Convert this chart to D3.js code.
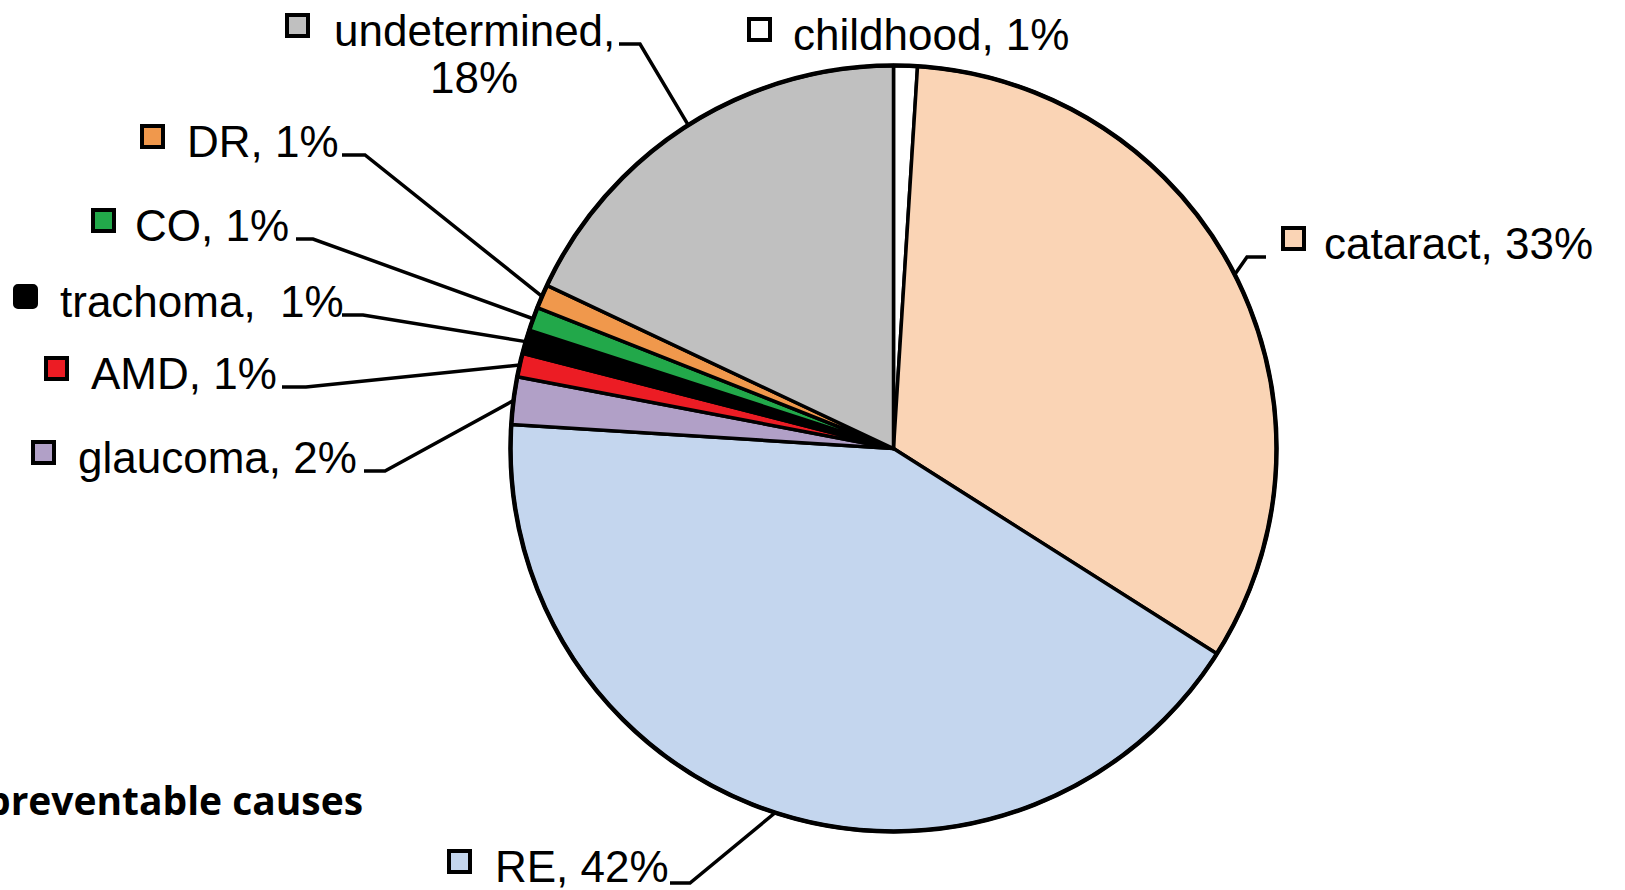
<!DOCTYPE html>
<html>
<head>
<meta charset="utf-8">
<script src="https://cdn.jsdelivr.net/npm/d3@7"></script>
<style>
  html, body { margin: 0; padding: 0; background: #fff; }
  svg { display: block; }
</style>
</head>
<body>
<script>
// data, clockwise from 12 o'clock
var causes = ['childhood', 'cataract', 'RE', 'glaucoma', 'AMD', 'trachoma', 'CO', 'DR', 'undetermined'];
var shares = [1, 33, 42, 2, 1, 1, 1, 1, 18];
var labels = ['childhood, 1%', 'cataract, 33%', 'RE, 42%', 'glaucoma, 2%', 'AMD, 1%',
              'trachoma,  1%', 'CO, 1%', 'DR, 1%', 'undetermined,'];
var colours = ['#ffffff', '#fad4b5', '#c4d6ee', '#b1a0c7', '#ec1c24',
               '#000000', '#22a84a', '#f0984c', '#c0c0c0'];
var caption = 'preventable causes';

var W = 1625, H = 890;
var cx = 893.5, cy = 448.5, R = 383;

// label layout: square x, baseline y, text x, leader start x, elbow x
var layout = {
  childhood:    {sq: 749, base: 50,  tx: 793, lead: null},
  cataract:     {sq: 1283, base: 259, tx: 1324, lead: [1266, 1247]},
  RE:           {sq: 449, base: 882, tx: 495, lead: [670, 690]},
  glaucoma:     {sq: 33,  base: 473, tx: 78,  lead: [364, 385]},
  AMD:          {sq: 46,  base: 389, tx: 91,  lead: [282, 306]},
  trachoma:     {sq: 15,  base: 317, tx: 60,  lead: [342, 363]},
  CO:           {sq: 93,  base: 241, tx: 135, lead: [296, 313]},
  DR:           {sq: 142, base: 157, tx: 187, lead: [342, 365]},
  undetermined: {sq: 287, base: 46,  tx: 334, lead: [619, 640]}
};

var svg = d3.select('body').append('svg')
  .attr('width', W)
  .attr('height', H);

var pie = d3.pie().sort(null).value(function(d) { return d; });
var arcs = pie(shares);

var arc = d3.arc().innerRadius(0).outerRadius(R);
var edge = d3.arc().innerRadius(R).outerRadius(R);

var g = svg.append('g').attr('transform', 'translate(' + cx + ',' + cy + ')');

g.selectAll('path')
  .data(arcs)
  .enter()
  .append('path')
  .attr('d', arc)
  .attr('fill', function(d, i) { return colours[i]; })
  .attr('stroke', '#000')
  .attr('stroke-width', 3.5)
  .attr('stroke-linejoin', 'round');

// heavier rim
g.append('circle')
  .attr('r', R)
  .attr('fill', 'none')
  .attr('stroke', '#000')
  .attr('stroke-width', 4.5);

// labels
var lab = svg.selectAll('g.lab')
  .data(arcs)
  .enter()
  .append('g')
  .attr('class', 'lab');

lab.append('rect')
  .attr('x', function(d, i) { return layout[causes[i]].sq; })
  .attr('y', function(d, i) { return layout[causes[i]].base - 31; })
  .attr('width', 21)
  .attr('height', 21)
  .attr('rx', function(d, i) { return causes[i] === 'trachoma' ? 3 : 0; })
  .attr('fill', function(d, i) { return colours[i]; })
  .attr('stroke', '#000')
  .attr('stroke-width', 4);

lab.append('text')
  .attr('x', function(d, i) { return layout[causes[i]].tx; })
  .attr('y', function(d, i) { return layout[causes[i]].base; })
  .attr('font-family', '"Liberation Sans", Arial, sans-serif')
  .attr('font-size', 44)
  .attr('fill', '#000')
  .style('white-space', 'pre')
  .text(function(d, i) { return labels[i]; });

// second line for undetermined
svg.append('text')
  .attr('x', 474)
  .attr('y', 93)
  .attr('text-anchor', 'middle')
  .attr('font-family', '"Liberation Sans", Arial, sans-serif')
  .attr('font-size', 44)
  .text(shares[8] + '%');

// leader lines
lab.filter(function(d, i) { return layout[causes[i]].lead; })
  .append('polyline')
  .attr('points', function(d) {
    var L = layout[causes[d.index]];
    var p = edge.centroid(d);
    var y = L.base + (d.index === 2 ? 1 : -2);
    return [[L.lead[0], y], [L.lead[1], y], [cx + p[0], cy + p[1]]].join(' ');
  })
  .attr('fill', 'none')
  .attr('stroke', '#000')
  .attr('stroke-width', 3.5);

svg.append('text')
  .attr('x', -14)
  .attr('y', 815)
  .attr('font-family', '"Open Sans", "Noto Sans", sans-serif')
  .attr('font-weight', 'bold')
  .attr('font-size', 40)
  .attr('textLength', 377)
  .attr('lengthAdjust', 'spacingAndGlyphs')
  .text(caption);
</script>
</body>
</html>
